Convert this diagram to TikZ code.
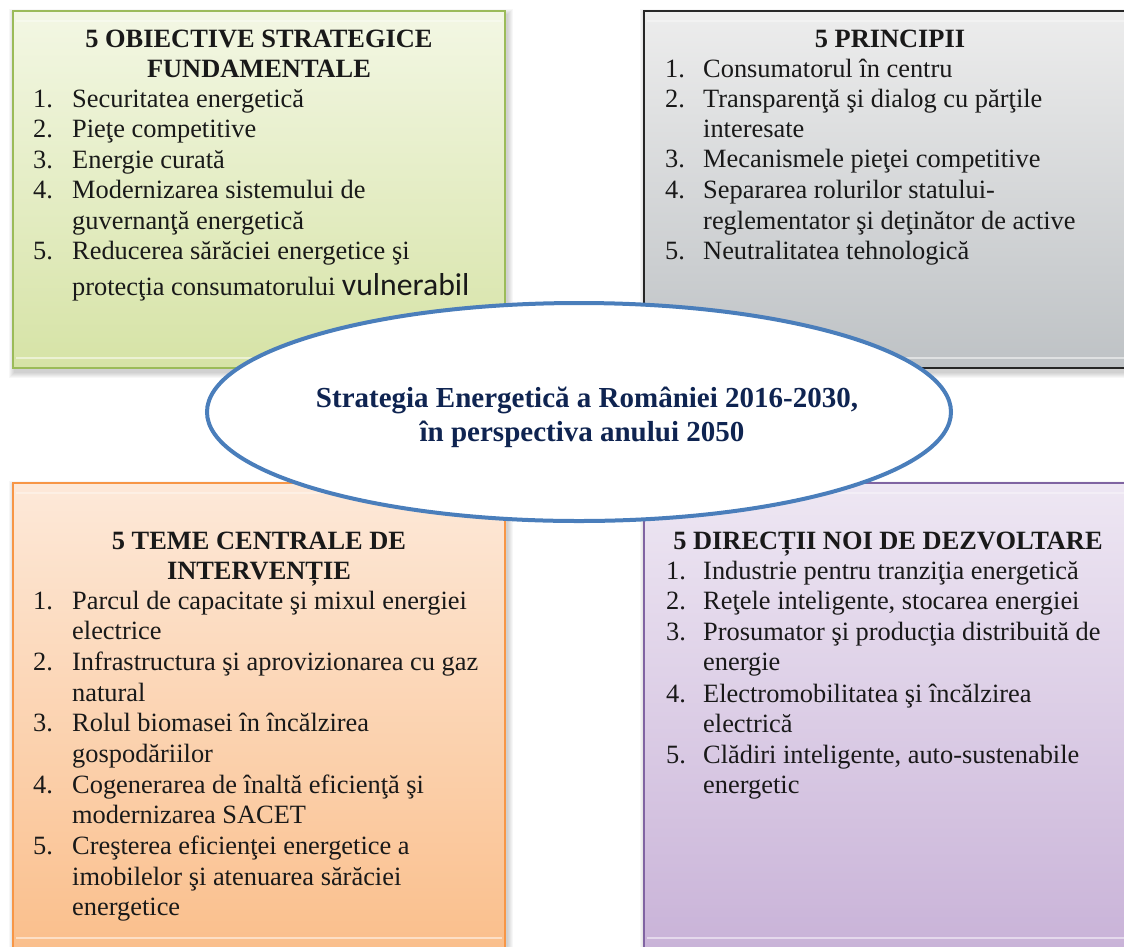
\documentclass[tikz,border=0pt]{standalone}
\usepackage{fontspec}
\setmainfont{Liberation Serif}
\newfontfamily\carl{Carlito}
\usetikzlibrary{shapes.geometric}
\definecolor{gtop}{HTML}{F3F7E4}\definecolor{gbot}{HTML}{D6E3A6}\definecolor{gbrd}{HTML}{9BBB59}
\definecolor{ktop}{HTML}{EDEDED}\definecolor{kbot}{HTML}{BEC2C5}\definecolor{kbrd}{HTML}{262626}
\definecolor{otop}{HTML}{FDE9D9}\definecolor{obot}{HTML}{FABF8C}\definecolor{obrd}{HTML}{F79646}
\definecolor{ptop}{HTML}{EEE7F3}\definecolor{pbot}{HTML}{C9B3D8}\definecolor{pbrd}{HTML}{8064A2}
\definecolor{ellblue}{HTML}{4A7EBB}\definecolor{navy}{HTML}{0F2451}
\newcommand\softshadow[4]{\foreach \k in {1,...,6}{\fill[black,opacity=0.03] (#1-\k+2,#2-\k+4) rectangle (#3+\k+2,#4+\k+4);}}
\begin{document}
\begin{tikzpicture}[x=1pt,y=-1pt,
 panel/.style={rectangle, anchor=north west, minimum width=492pt, inner sep=0pt, outer sep=0pt},
 itxt/.style={anchor=base west, inner sep=0pt, text=black!90, font=\fontsize{26.4}{30.5}\selectfont},
 ttl/.style={anchor=base, inner sep=0pt, text=black!90, font=\fontsize{26.4}{30.5}\selectfont\bfseries},
 bevel/.style={white, line width=1.2pt, opacity=0.5}]
\useasboundingbox (0,0) rectangle (1124,946);
\fill[white] (0,0) rectangle (1124,946);
% shadows
\softshadow{13}{11}{505}{368}
\softshadow{644}{11}{1136}{368}
\softshadow{13}{483}{505}{948}
\softshadow{644}{483}{1136}{948}
% panels
\node[panel, minimum height=357pt, top color=gtop, bottom color=gbot, draw=gbrd, line width=2pt] (gbox) at (13,11) {};
\node[panel, minimum height=357pt, top color=ktop, bottom color=kbot, draw=kbrd, line width=2.6pt] (kbox) at (644,11) {};
\node[panel, minimum height=465pt, top color=otop, bottom color=obot, draw=obrd, line width=2.4pt] (obox) at (13,483) {};
\node[panel, minimum height=465pt, top color=ptop, bottom color=pbot, draw=pbrd, line width=2pt] (pbox) at (644,483) {};
\foreach \b in {gbox,kbox,obox,pbox}{
 \draw[bevel] ([shift={(3pt,10pt)}]\b.south west) -- ([shift={(-3pt,10pt)}]\b.south east);
 \draw[bevel,opacity=0.35] ([shift={(3pt,-10pt)}]\b.north west) -- ([shift={(-3pt,-10pt)}]\b.north east);
}
% green panel text
\node[ttl] (g0a) at (259,47) {5 OBIECTIVE STRATEGICE};
\node[ttl] (g0b) at (259,77) {FUNDAMENTALE};
\node[itxt] (g1n) at (33,107) {1.};\node[itxt] (g1) at (72,107) {Securitatea energetică};
\node[itxt] (g2n) at (33,137.5) {2.};\node[itxt] (g2) at (72,137.5) {Pieţe competitive};
\node[itxt] (g3n) at (33,168) {3.};\node[itxt] (g3) at (72,168) {Energie curată};
\node[itxt] (g4n) at (33,198.5) {4.};\node[itxt] (g4) at (72,198.5) {Modernizarea sistemului de};
\node[itxt] (g4b) at (72,229) {guvernanţă energetică};
\node[itxt] (g5n) at (33,259.5) {5.};\node[itxt] (g5) at (72,259.5) {Reducerea sărăciei energetice şi};
\node[itxt] (g5b) at (72,295) {protecţia consumatorului {\fontsize{31.7}{36}\selectfont\carl vulnerabil}};
% gray panel text
\node[ttl] (k0) at (890,47) {5 PRINCIPII};
\node[itxt] (k1n) at (665,77) {1.};\node[itxt] (k1) at (703,77) {Consumatorul în centru};
\node[itxt] (k2n) at (665,107) {2.};\node[itxt] (k2) at (703,107) {Transparenţă şi dialog cu părţile};
\node[itxt] (k2b) at (703,137) {interesate};
\node[itxt] (k3n) at (665,167.5) {3.};\node[itxt] (k3) at (703,167.5) {Mecanismele pieţei competitive};
\node[itxt] (k4n) at (665,198) {4.};\node[itxt] (k4) at (703,198) {Separarea rolurilor statului-};
\node[itxt] (k4b) at (703,229) {reglementator şi deţinător de active};
\node[itxt] (k5n) at (665,259.5) {5.};\node[itxt] (k5) at (703,259.5) {Neutralitatea tehnologică};
% orange panel text
\node[ttl] (o0a) at (259,549) {5 TEME CENTRALE DE};
\node[ttl] (o0b) at (259,579) {INTERVENȚIE};
\node[itxt] (o1n) at (33,609) {1.};\node[itxt] (o1) at (72,609) {Parcul de capacitate şi mixul energiei};
\node[itxt] (o1b) at (72,639.5) {electrice};
\node[itxt] (o2n) at (33,670) {2.};\node[itxt] (o2) at (72,670) {Infrastructura şi aprovizionarea cu gaz};
\node[itxt] (o2b) at (72,701) {natural};
\node[itxt] (o3n) at (33,731.5) {3.};\node[itxt] (o3) at (72,731.5) {Rolul biomasei în încălzirea};
\node[itxt] (o3b) at (72,762) {gospodăriilor};
\node[itxt] (o4n) at (33,793) {4.};\node[itxt] (o4) at (72,793) {Cogenerarea de înaltă eficienţă şi};
\node[itxt] (o4b) at (72,823) {modernizarea SACET};
\node[itxt] (o5n) at (33,854) {5.};\node[itxt] (o5) at (72,854) {Creşterea eficienţei energetice a};
\node[itxt] (o5b) at (72,885) {imobilelor şi atenuarea sărăciei};
\node[itxt] (o5c) at (72,915) {energetice};
% purple panel text
\node[ttl] (p0) at (888,549) {5 DIRECȚII NOI DE DEZVOLTARE};
\node[itxt] (p1n) at (666,579) {1.};\node[itxt] (p1) at (703,579) {Industrie pentru tranziţia energetică};
\node[itxt] (p2n) at (666,609) {2.};\node[itxt] (p2) at (703,609) {Reţele inteligente, stocarea energiei};
\node[itxt] (p3n) at (666,640) {3.};\node[itxt] (p3) at (703,640) {Prosumator şi producţia distribuită de};
\node[itxt] (p3b) at (703,670) {energie};
\node[itxt] (p4n) at (666,702) {4.};\node[itxt] (p4) at (703,702) {Electromobilitatea şi încălzirea};
\node[itxt] (p4b) at (703,732) {electrică};
\node[itxt] (p5n) at (666,763) {5.};\node[itxt] (p5) at (703,763) {Clădiri inteligente, auto-sustenabile};
\node[itxt] (p5b) at (703,793) {energetic};
% central ellipse
\node[ellipse, draw=ellblue, fill=white, line width=4pt, minimum width=744pt, minimum height=218pt, inner sep=0pt] (ell) at (579,412) {};
\node[anchor=base, inner sep=0pt, text=navy, font=\fontsize{29}{34}\selectfont\bfseries] (e1) at (587,407) {Strategia Energetică a României 2016-2030,};
\node[anchor=base, inner sep=0pt, text=navy, font=\fontsize{29}{34}\selectfont\bfseries] (e2) at (582,441) {în perspectiva anului 2050};
\end{tikzpicture}
\end{document}
